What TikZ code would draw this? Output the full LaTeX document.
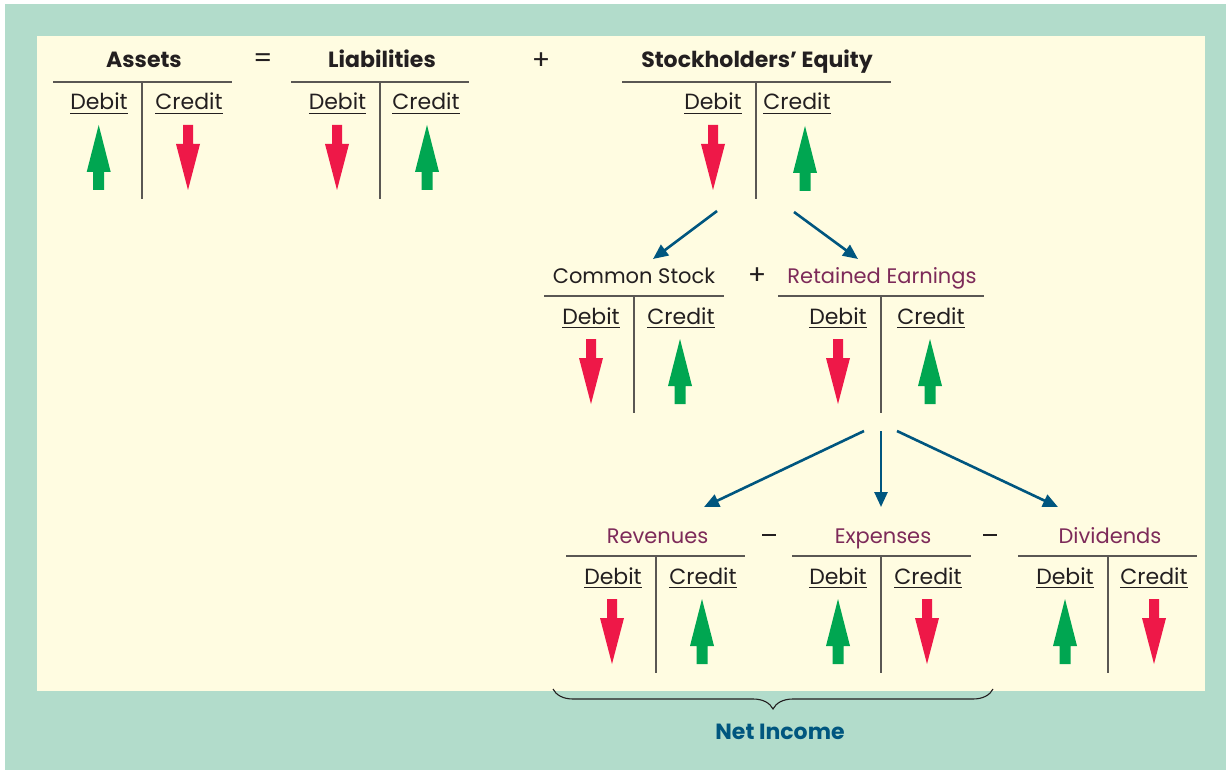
\documentclass[tikz,border=0pt]{standalone}
\usepackage{fontspec}
\setmainfont{Poppins}
\usetikzlibrary{arrows.meta}
\usetikzlibrary{decorations.pathreplacing}

\definecolor{frame}{HTML}{B2DCCB}
\definecolor{paper}{HTML}{FFFCE1}
\definecolor{ink}{HTML}{231F20}
\definecolor{rulegray}{HTML}{5A5753}
\definecolor{incgreen}{HTML}{00A651}
\definecolor{decred}{HTML}{EE1848}
\definecolor{flowblue}{HTML}{00567F}
\definecolor{plum}{HTML}{7D2A59}

\newcommand{\undl}[1]{\setbox0\hbox{#1}\rlap{\rule[-4pt]{\wd0}{1.1pt}}\box0}
\newcommand{\bardash}{\rule{14pt}{2.3pt}}

\tikzset{
  uparrow/.pic={\fill[incgreen] (0,0) -- (12,47) -- (5.5,47) -- (5.5,65)
      -- (-5.5,65) -- (-5.5,47) -- (-12,47) -- cycle;},
  downarrow/.pic={\fill[decred] (-5,0) -- (5,0) -- (5,19) -- (12,19)
      -- (0,65) -- (-12,19) -- (-5,19) -- cycle;}
}

\begin{document}
\begin{tikzpicture}[x=1pt, y=-1pt,
    head/.style={anchor=base, text=ink, font=\bfseries\fontsize{22}{26}\selectfont},
    acct/.style={anchor=base, text=ink, font=\fontsize{21}{24}\selectfont},
    side/.style={anchor=base, text=ink, font=\fontsize{22}{26}\selectfont},
    sign/.style={text=ink, inner sep=0pt, font=\fontsize{27}{30}\selectfont},
    tline/.style={draw=rulegray, line width=1.6pt},
    flow/.style={draw=flowblue, line width=2.6pt, -{Triangle[length=15pt,width=13pt]}}]

% --- BACKGROUND ---
\useasboundingbox (0,0) rectangle (1226,770);
\fill[white] (0,0) rectangle (1226,770);
\fill[frame] (5,4) rectangle (1226,770);
\fill[paper] (37,36) rectangle (1205,691);

% --- T-ACCOUNTS: cross lines and column labels ---
\foreach \n/\l/\r/\v/\d/\c/\t in {
    assets/53/232/142/99/189/82,
    liab/291/469/380/337.5/426/82,
    equity/622/891/756/713/797/82,
    stock/544/724/634/591/681/296,
    retained/778/984/881/838/931/296,
    rev/566/745/656/613/703/556,
    exp/792/971/881/838/928/556,
    div/1018/1197/1108/1065/1154/556} {
  \draw[tline] (\l,\t) -- (\r,\t);
  \draw[tline] (\v,\t) -- (\v,\t+117);
  \node[side] (\n-dr) at (\d,\t+28) {\undl{Debit}};
  \node[side] (\n-cr) at (\c,\t+28) {\undl{Credit}};
}

% --- Increase / decrease arrows ---
\foreach \x/\y in {98.7/125, 427/125, 805/126, 680/339, 930/339,
    702/599, 838/599, 1065/599}
  \pic at (\x,\y) {uparrow};
\foreach \x/\y in {188/125, 337/125, 713/125, 591/339, 838/339,
    612/599, 927/599, 1154/599}
  \pic at (\x,\y) {downarrow};

% --- Headings ---
\node[head] (assets) at (144,68) {Assets};
\node[sign] (eq) at (263,61) {=};
\node[head] (liab) at (382,68) {Liabilities};
\node[sign] (plus1) at (541,61) {+};
\node[head] (equity) at (757,68) {Stockholders’ Equity};

\node[acct] (stock) at (634,283) {Common Stock};
\node[sign] (plus2) at (757,276) {+};
\node[acct, text=plum] (retained) at (882,283) {Retained Earnings};

\node[acct, text=plum] (rev) at (657.5,543) {Revenues};
\node[sign] (minus1) at (769,535) {\bardash};
\node[acct, text=plum] (exp) at (883,543) {Expenses};
\node[sign] (minus2) at (990,535) {\bardash};
\node[acct, text=plum] (div) at (1110,543) {Dividends};

% --- Flow connectors ---
\coordinate (eq-l) at (717,211);
\coordinate (eq-r) at (794,212);
\coordinate (stock-in) at (653,259);
\coordinate (ret-in) at (858,259);
\draw[flow] (eq-l) -- (stock-in);
\draw[flow] (eq-r) -- (ret-in);

\coordinate (re-l) at (864,431);
\coordinate (re-m) at (881,431);
\coordinate (re-r) at (897,431);
\coordinate (rev-in) at (704,507);
\coordinate (exp-in) at (881,507);
\coordinate (div-in) at (1058,507);
\draw[flow] (re-l) -- (rev-in);
\draw[flow] (re-m) -- (exp-in);
\draw[flow] (re-r) -- (div-in);

% --- Net income brace ---
\coordinate (br-l) at (553,689);
\coordinate (br-r) at (993,689);
\draw[ink, line width=1.1pt, decorate, decoration={brace, mirror, amplitude=20pt}]
    (br-l) -- (br-r);
\node[head, text=flowblue] (netinc) at (780,739) {Net Income};

\end{tikzpicture}
\end{document}
